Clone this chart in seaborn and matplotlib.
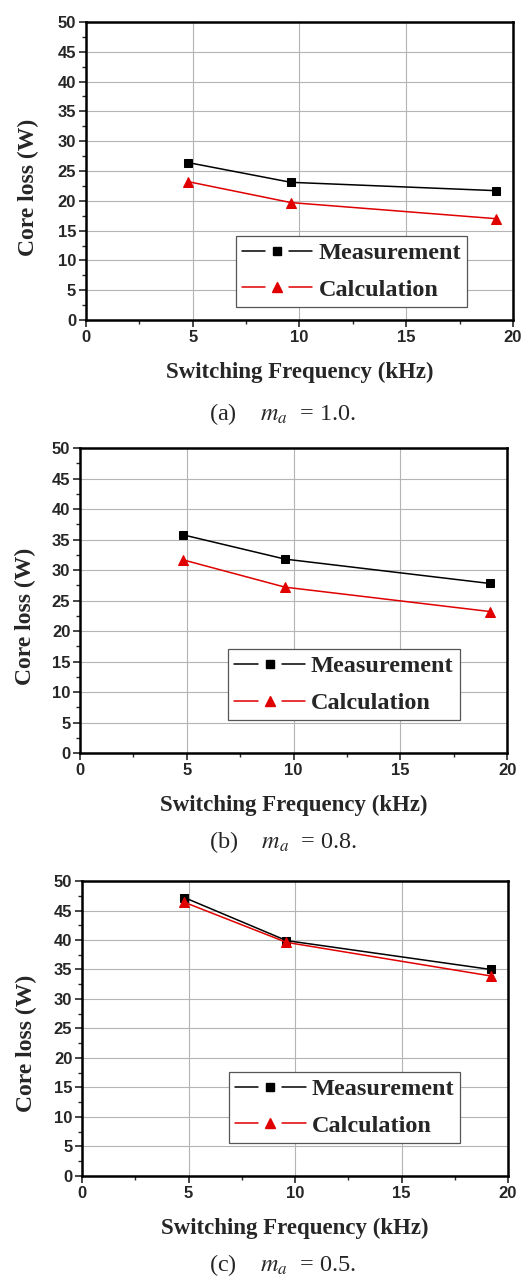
import matplotlib
matplotlib.use('Agg')
import matplotlib.pyplot as plt
import seaborn as sns
import numpy as np
from matplotlib.ticker import MultipleLocator
from matplotlib.lines import Line2D
from matplotlib.legend_handler import HandlerBase

freq = [4.8, 9.6, 19.2]

meas_a = [26.4, 23.1, 21.7]
calc_a = [23.2, 19.7, 17.0]

meas_b = [35.8, 31.8, 27.8]
calc_b = [31.7, 27.2, 23.2]

meas_c = [47.2, 39.9, 35.0]
calc_c = [46.4, 39.6, 33.9]

captions = ['(a)', '(b)', '(c)']
ma_values = ['1.0', '0.8', '0.5']


class GapHandler(HandlerBase):
    # Origin style handle: line - gap - marker - gap - line
    def create_artists(self, legend, orig_handle, xdescent, ydescent,
                       width, height, fontsize, trans):
        y = height / 2 - ydescent
        x0 = -xdescent
        gap = 0.17 * width
        kw = dict(color=orig_handle.get_color(), linewidth=orig_handle.get_linewidth())
        l1 = Line2D([x0, x0 + width / 2 - gap], [y, y], **kw)
        l2 = Line2D([x0 + width / 2 + gap, x0 + width], [y, y], **kw)
        m = Line2D([x0 + width / 2], [y], linestyle='none',
                   marker=orig_handle.get_marker(),
                   markersize=orig_handle.get_markersize(),
                   color=orig_handle.get_color())
        for a in (l1, l2, m):
            a.set_transform(trans)
        return [l1, l2, m]


sns.set_style('ticks')
plt.rcParams['mathtext.fontset'] = 'stix'

fig = plt.figure(figsize=(5.24, 12.77), dpi=100)

boxes = [
    [0.164, 0.7494, 0.815, 0.2334],
    [0.1527, 0.4103, 0.815, 0.2388],
    [0.1565, 0.0791, 0.813, 0.2310],
]
legend_anchor = [(0.351, 0.044), (0.347, 0.108), (0.345, 0.112)]
ylabel_pos = [(-0.109, 0.446), (-0.102, 0.449), (-0.105, 0.451)]
caption_y = [1 - 414 / 1277, 1 - 842 / 1277, 1 - 1265 / 1277]

datos = [(meas_a, calc_a), (meas_b, calc_b), (meas_c, calc_c)]

serif = ['Liberation Serif', 'DejaVu Serif']
sans = ['Liberation Sans', 'DejaVu Sans']

for i, (meas, calc) in enumerate(datos):
    ax = fig.add_axes(boxes[i])
    sns.lineplot(x=freq, y=meas, ax=ax, color='black', marker='s', markersize=5.5,
                 markeredgecolor='black', linewidth=1.1, label='Measurement')
    sns.lineplot(x=freq, y=calc, ax=ax, color='#e00000', marker='^', markersize=7,
                 markeredgecolor='#e00000', linewidth=1.1, label='Calculation')

    ax.set_xlim(0, 20)
    ax.set_ylim(0, 50)
    ax.xaxis.set_major_locator(MultipleLocator(5))
    ax.xaxis.set_minor_locator(MultipleLocator(2.5))
    ax.yaxis.set_major_locator(MultipleLocator(5))
    ax.yaxis.set_minor_locator(MultipleLocator(2.5))
    ax.grid(True, which='major', color='#b4b4b4', linewidth=0.8)
    ax.set_axisbelow(True)
    for s in ax.spines.values():
        s.set_linewidth(1.8)
        s.set_color('black')
        s.set_visible(True)
    ax.tick_params(which='major', direction='out', length=5, width=1.2,
                   top=False, right=False, pad=2)
    ax.tick_params(which='minor', direction='out', length=3, width=1.0,
                   top=False, right=False)
    for lbl in ax.get_xticklabels() + ax.get_yticklabels():
        lbl.set_fontfamily(sans)
        lbl.set_fontweight('bold')
        lbl.set_fontsize(12)

    ax.set_xlabel('Switching Frequency (kHz)', fontfamily=serif, fontweight='bold',
                  fontsize=16.5, labelpad=12)
    ax.set_ylabel('Core loss (W)', fontfamily=serif, fontweight='bold', fontsize=17)
    ax.yaxis.set_label_coords(*ylabel_pos[i])

    handles, labels = ax.get_legend_handles_labels()
    leg = ax.legend(handles, labels, loc='lower left', bbox_to_anchor=legend_anchor[i],
                    handler_map={Line2D: GapHandler()},
                    prop={'family': serif, 'weight': 'bold', 'size': 17.5},
                    handlelength=2.9, handletextpad=0.25,
                    borderpad=0.25, labelspacing=0.6, borderaxespad=0,
                    frameon=True, fancybox=False, framealpha=1)
    leg.get_frame().set_edgecolor('#555555')
    leg.get_frame().set_linewidth(0.9)

    fig.text(0.54, caption_y[i],
             captions[i] + r'    $m_a$  = ' + ma_values[i] + '.',
             ha='center', va='center', fontsize=17.5, fontfamily=serif)

fig.savefig('out.png', dpi=100)
